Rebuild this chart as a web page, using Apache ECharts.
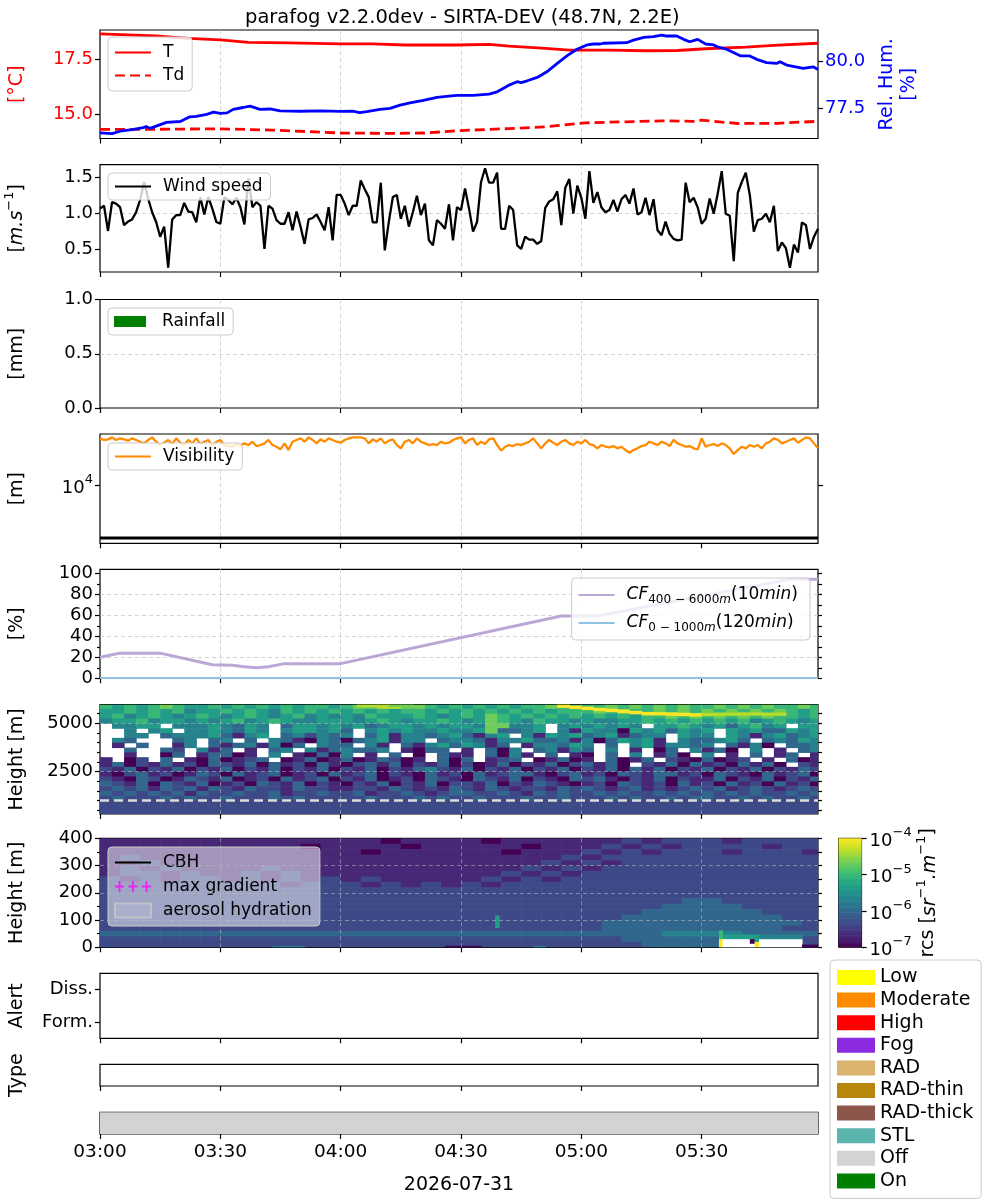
<!DOCTYPE html>
<html><head><meta charset="utf-8">
<script src="https://cdn.jsdelivr.net/npm/echarts@6/dist/echarts.min.js"></script>
<style>html,body{margin:0;padding:0;background:#fff}#c{width:1000px;height:1200px}</style>
</head><body><div id="c"></div>
<script>
// ================= DATA =================
const chartTitle = 'parafog v2.2.0dev - SIRTA-DEV (48.7N, 2.2E)';
const dateLabel = '2026-07-31';
const timeTicks = [0, 30, 60, 90, 120, 150];          // minutes after 03:00
const timeEnd = 179;

const tTime = [0,14,22,30,37,47,60,68,76,89,97,102,111,117,127,136,144,151,161,169,179];
const tVal  = [18.65,18.56,18.45,18.38,18.27,18.25,18.2,18.2,18.15,18.15,18.18,18.1,18.0,17.92,17.92,17.89,17.9,17.98,18.05,18.14,18.23];
const tdTime = [0,15,30,43,60,72,81,90,102,111,115,121,127,140,148,150,159,169,179];
const tdVal  = [14.32,14.33,14.35,14.29,14.16,14.14,14.16,14.27,14.36,14.44,14.51,14.62,14.65,14.71,14.69,14.74,14.59,14.6,14.69];
const rhTime = [0,3,5,8,10.8,11.5,12.5,14,16.6,20,22.4,24,26.6,28.3,30,31.7,33.2,35.7,37.4,39.9,42.4,44.9,50,55,60,63,64.8,66.5,69.8,72.3,74.8,77.3,80.6,84,88.9,93,97,99,100.5,102,104,105,106.5,109,111.4,114,116.4,118.9,121.4,123,124.7,125,125.5,131.3,133,135.6,138,140,141,143.8,145.5,147,149,151,153,153.9,156.2,159.6,162,163.7,166.2,168.7,169.5,171.2,172.5,175.3,177.8,179];
const rhVal  = [76.19,76.15,76.28,76.37,76.47,76.53,76.43,76.55,76.75,76.8,77.05,77.08,77.18,77.3,77.23,77.26,77.45,77.55,77.62,77.45,77.47,77.37,77.35,77.37,77.34,77.36,77.28,77.33,77.45,77.5,77.68,77.8,77.93,78.09,78.2,78.2,78.27,78.39,78.57,78.75,78.93,78.88,78.98,79.16,79.46,79.91,80.31,80.67,80.9,80.95,80.95,80.88,80.99,81.02,81.16,81.31,81.34,81.43,81.38,81.38,81.2,81.07,81.2,80.95,80.9,80.8,80.67,80.32,80.31,80.13,79.95,79.91,80.0,79.82,79.77,79.65,79.73,79.59];

// 1-minute wind speed [m/s], 03:00 -> 05:59
const windSpeed = [
 1.06,1.1,0.75,1.15,1.13,1.08,0.83,0.88,0.91,1.01,
 1.18,1.43,1.2,1.01,0.875,0.67,0.81,0.24,0.91,0.97,
 0.97,1.14,1.02,1.01,0.87,1.22,0.98,1.22,1.06,0.875,
 0.85,1.22,1.18,1.12,1.21,1.08,0.84,1.48,1.08,1.15,
 1.1,0.5,1.1,1.06,0.9,0.85,0.85,1.01,0.76,1.02,
 0.81,0.57,0.91,0.93,0.98,0.875,0.76,1.08,0.62,1.25,
 1.25,1.13,0.97,1.1,1.1,1.45,1.33,1.22,0.87,0.87,
 1.42,0.48,0.875,1.22,1.25,0.92,1.1,0.81,1.01,1.24,
 0.97,1.13,0.62,0.55,0.9,0.85,0.78,1.12,0.62,1.08,
 1.04,1.34,1.06,0.74,0.875,1.43,1.62,1.42,1.42,1.56,
 0.78,0.78,1.1,1.04,0.55,0.5,0.67,0.63,0.63,0.57,
 0.61,1.07,1.16,1.19,1.3,0.83,1.35,1.47,0.99,1.38,
 1.21,0.92,1.58,1.14,1.29,1.08,1.01,1.04,1.18,1.02,
 1.19,1.25,1.13,1.34,0.98,1.01,1.21,0.97,1.19,0.76,
 0.69,0.88,0.71,0.64,0.62,0.63,1.42,1.15,1.21,1.08,
 0.85,0.92,1.2,0.99,1.27,1.58,0.99,0.96,0.33,1.28,
 1.43,1.56,1.25,0.74,0.9,0.92,0.99,0.87,1.1,0.47,
 0.59,0.51,0.24,0.56,0.45,0.87,0.83,0.5,0.67,0.78];

const rainfall = [];   // no rain recorded

// 1-minute visibility [m]
const visibility = [
 18420,18030,18180,18660,18030,18420,18180,17860,18420,18030,
 17630,17250,18030,18660,17630,16880,17400,18030,17100,18420,
 17400,16880,18030,17250,18420,17100,17630,18030,16650,17630,
 18030,16880,16650,16510,17100,16800,17250,16880,17630,16650,
 16880,17250,18030,16880,16510,15950,17250,15800,17630,18030,
 18420,17630,18660,18030,17250,18180,17630,18420,18030,17630,
 17400,18030,18420,18660,18660,18660,18420,17250,18180,17630,
 18420,17250,17860,18180,16880,16160,17630,18030,17250,18420,
 17630,17250,16880,17100,16880,17630,17250,17400,18030,18420,
 18660,17250,18030,18420,16880,17630,17100,18180,18420,16880,
 15670,16510,16880,16650,17100,16880,17250,17630,18420,17250,
 16160,17250,18030,17400,16880,17630,18030,17250,16880,17630,
 17250,18030,17100,16880,16160,16880,16510,16370,16650,16160,
 16510,15800,15270,15800,16160,16650,16880,17630,17250,16880,
 17630,17250,16650,18030,17250,16880,16510,16650,16160,15950,
 18420,16510,16880,17100,16650,17250,16880,16160,15000,15800,
 16510,16160,16880,16510,16880,16160,17250,17630,18420,18030,
 17250,17630,18030,18420,17400,18030,18660,18420,17250,16160];
const visFogThreshold = 5000;

const cfTime = [0,5,15,28,33,36,39,42,46,60,115,124,172,179];
const cf400  = [20,24,24,13,12.5,11,10,11,14,14,59.5,59.5,94.5,94.5];
const cf0Time = [0,179];
const cf0     = [0,0];

// log10(rcs) codes: digit d -> log10 = -7 + d/3 ; '.' = no data. Rows top (5750-6000 m) -> bottom (250-500 m), 3-min columns
const hgtRows = [
 "6565676556 5656565665 6778877656 5656566766 6676767676 6767676676",
 "5565656455 6565465656 5656566565 6565656566 6767667676 7676767656",
 "5645654565 4565456454 5465556545 6576565656 5656566767 6767676656",
 "4556455454 5645654455 5456545565 4576546554 5445565656 5656456545",
 ".4455.4445 4354.35545 4534554545 5477445.45 45454.5565 4535645.55",
 "..4.45.445 4354.45545 3.45454454 4563345.41 5440545354 5.54533545",
 "..44.34445 3145.34243 4.35144345 3145.41545 3451344.54 4.54145345",
 ".43...34.3 4.3.431043 0345144.34 4314453341 4035451.43 3453.34354",
 ".1.3..14.3 1341403.43 3.41.31453 5413.14435 4.3.451443 4.3140.334",
 "..3..32.41 3.1.34.413 4334.1033. 1.304.3414 3.4.1.03.4 130.4.1.34",
 "..1..03.13 301.4.1030 4.1.3.0.31 1.3041.3.1 0.3.4.130. 4.1.3.13.1",
 "1.02.3.103 0123.01301 3013201.30 3.123.0130 1.3013.210 3012.1.301",
 "1302131203 2130312031 0231302130 2013021302 3130.21303 1203130.21",
 "2130213021 3021302130 2130213421 3021302130 2130313021 3021302132",
 "1023120132 0312301203 1230210312 0312331023 1203213312 0321031230",
 "2103201321 3012031230 2130120321 0321302103 2310213021 1302130213",
 "3213032130 1203213021 0213021302 2130213210 1203212031 2031203120",
 "2323132313 2132213221 1221321213 2132122132 3212312123 2312321232",
 "3232323132 2322312232 2312232123 3223213232 2323223232 3232322323",
 "2322232322 3222323222 2232223232 2322232232 2232322323 3223232232",
 "2222222222 2222222222 2222222222 2222222222 2222222222 2222222222",
 "2222222222 2222222222 2222222222 2222222222 2222222222 2222222222",
 "2222222222 2222222222 2222222222 2222222222 2222222222 2222222222"];
const hgtColStep = 3, hgtRowBase = 250, hgtRowStep = 250;
// cloud layer (bright line) near the top: [t0, t1, h0, h1, code]
const hgtSpecial = [
 [64,67,5860,5965,8],[67,72,5870,5965,8],[72,78,5880,5965,7],
 [114,117,5830,5965,9],[117,120,5770,5920,9],[120,123,5720,5870,9],[123,126,5660,5810,9],
 [126,129,5610,5760,9],[129,132,5560,5710,9],[132,135,5500,5650,9],[135,138,5440,5590,9],
 [138,141,5440,5580,9],[141,144,5420,5570,9],[144,147,5400,5550,9],[147,150,5380,5530,9],
 [150,153,5400,5540,8],[153,159,5420,5560,8],[159,165,5430,5570,8],[165,171,5420,5560,8],
 [96,99,4500,5060,7]];

// low-level rcs codes, rows top (380-400 m) -> bottom (0-20 m), 5-min columns
const lowRows = [
 "111111 111111 110111 101111 112122 212222",
 "111111 111101 111011 111011 121212 222122",
 "111111 111111 101111 110111 212122 212221",
 "121111 111111 111111 111112 122222 222222",
 "112111 111111 111111 111121 212222 222222",
 "121211 112111 111111 111212 122222 222222",
 "122121 121211 111111 112121 222222 222222",
 "212122 121212 121111 121212 222222 222222",
 "222222 222122 212121 212222 222222 222222",
 "222222 222222 222222 222222 222222 222222",
 "222222 222222 222222 222222 222222 222222",
 "222222 222222 222222 222222 222223 322222",
 "222222 222222 222222 222222 222233 332222",
 "222222 222222 222222 222222 222333 333222",
 "222222 222222 222222 222222 223333 333322",
 "222222 222222 222222 222222 233333 333332",
 "222222 222222 222222 222222 233333 333322",
 "333333 333333 333333 333333 333344 443333",
 "222222 222222 222222 222222 223333 333332",
 "222222 222222 222222 222222 222333 333222"];
const lowColStep = 5, lowRowStep = 20;
// finer features: [t0, t1, h0, h1, code] ('.' = no data)
const lowSpecial = [
 [154.3,155.2,0,32,'9'],[154.3,155.2,32,62,'6'],[155.2,162,0,32,'.'],[155.2,162,32,47,'5'],
 [162,163.2,13,32,'0'],[162,163.2,0,13,'.'],[162,163.2,32,47,'5'],
 [163.2,164.3,0,22,'9'],[163.2,164.3,22,47,'5'],
 [164.3,175,0,32,'.'],[164.3,175,32,47,'4'],[175,179,0,10,'0'],
 [98.5,99.5,73,117,'5'],[86,95,0,6,'0'],[43,51,0,5,'4'],[108,111,0,5,'4']];

const cbhPoints = [], maxGradient = [];
const alertFormation = [], alertDissipation = [];
const statusStart = [0], statusEnd = [179], statusState = ['Off'];

const figLegendNames  = ['Low','Moderate','High','Fog','RAD','RAD-thin','RAD-thick','STL','Off','On'];
const figLegendColors = ['#ffff00','#ff8c00','#ff0000','#8a2be2','#dab46c','#b8860b','#8c564b','#5ab4ac','#d3d3d3','#008000'];

// ================= HELPERS =================
const F = 'DejaVu Sans', BLACK = '#000';
const zip = (a, b) => a.map((v, i) => [v, b[i]]);
const fmtTime = m => { const h = 3 + Math.floor(m / 60), mm = Math.round(m % 60); return (h < 10 ? '0' : '') + h + ':' + (mm < 10 ? '0' : '') + mm; };
const VIR = ['#440154','#482475','#414487','#355f8d','#2a788e','#21918c','#22a884','#44bf70','#7ad151','#bddf26','#fde725']
  .map(h => [parseInt(h.substr(1,2),16), parseInt(h.substr(3,2),16), parseInt(h.substr(5,2),16)]);
function viridis(t) {
  t = Math.max(0, Math.min(1, t)); const x = t * 10; const i = Math.min(9, Math.floor(x)); const f = x - i;
  const a = VIR[i], b = VIR[i + 1];
  return 'rgb(' + [0,1,2].map(k => Math.round(a[k] + (b[k] - a[k]) * f)).join(',') + ')';
}
function isObj(o) { return o && typeof o === 'object' && !Array.isArray(o); }
function merge(a, b) { for (const k in b) { if (isObj(b[k]) && isObj(a[k])) merge(a[k], b[k]); else a[k] = b[k]; } return a; }

function buildCells(rows, colStep, rowBase, rowStep) {
  const out = []; const n = rows.length;
  rows.forEach((s, ri) => {
    const r = n - 1 - ri; const str = s.replace(/\s+/g, '');
    for (let c = 0; c < str.length; c++) {
      const ch = str[c]; if (ch === '.') continue;
      out.push([c * colStep, (c + 1) * colStep, rowBase + r * rowStep, rowBase + (r + 1) * rowStep, +ch]);
    }
  });
  return out;
}
const hgtCells = buildCells(hgtRows, hgtColStep, hgtRowBase, hgtRowStep).concat(hgtSpecial);
const lowCells = buildCells(lowRows, lowColStep, 0, lowRowStep);
const lowSpecialCells = lowSpecial.map(d => [d[0], d[1], d[2], d[3], d[4] === '.' ? -1 : +d[4]]);
const cbarCells = [];
for (let k = 0; k < 90; k++) { const v0 = -7 + k * 3 / 90, v1 = v0 + 3 / 90; cbarCells.push([0, 1, v0, v1, ((v0 + v1) / 2 + 7) / 3 * 9]); }
const statusCells = statusStart.map((s, i) => [s, statusEnd[i], 0, 1, figLegendNames.indexOf(statusState[i])]);

function cellItem(params, api) {
  const p0 = api.coord([api.value(0), api.value(3)]), p1 = api.coord([api.value(1), api.value(2)]);
  const code = api.value(4), cs = params.coordSys;
  const r = echarts.graphic.clipRectByRect({x: p0[0], y: p0[1], width: p1[0] - p0[0] + 0.6, height: p1[1] - p0[1] + 0.6},
    {x: cs.x, y: cs.y, width: cs.width, height: cs.height});
  if (!r) return null;
  return {type: 'rect', shape: r, style: {fill: code < 0 ? '#ffffff' : viridis(code / 9)}};
}
function statusItem(params, api) {
  const p0 = api.coord([api.value(0), api.value(3)]), p1 = api.coord([api.value(1), api.value(2)]);
  const cs = params.coordSys;
  const r = echarts.graphic.clipRectByRect({x: p0[0], y: p0[1], width: p1[0] - p0[0], height: p1[1] - p0[1]},
    {x: cs.x, y: cs.y, width: cs.width, height: cs.height});
  if (!r) return null;
  return {type: 'rect', shape: r, style: {fill: figLegendColors[api.value(4)]}};
}

// ================= LAYOUT =================
const panels = [
  {top: 30, h: 108.5}, {top: 164.7, h: 107.3}, {top: 299.5, h: 108.5}, {top: 434, h: 109.3},
  {top: 569.3, h: 109}, {top: 704.7, h: 109.3}, {top: 838.3, h: 109}, {top: 973.3, h: 65},
  {top: 1064.3, h: 21.7}, {top: 1112.3, h: 21.7}];
const grids = panels.map(p => ({left: 100, width: 718, top: p.top, height: p.h, show: true, borderColor: BLACK, borderWidth: 1.2,
  backgroundColor: 'transparent', containLabel: false, outerBoundsMode: 'none'}));
grids.push({left: 838.6, width: 23, top: 838.3, height: 109, show: true, borderColor: BLACK, borderWidth: 1,
  backgroundColor: 'transparent', containLabel: false, outerBoundsMode: 'none'});

const gridLine = {color: '#cfcfcf', type: [4, 3], width: 0.9};
const xAxes = panels.map((p, i) => ({
  type: 'value', gridIndex: i, position: 'bottom', min: 0, max: timeEnd,
  axisLine: {show: false, onZero: false},
  axisTick: {show: true, customValues: timeTicks, length: 5, lineStyle: {color: BLACK, width: 1.2}},
  axisLabel: {show: i === 9, customValues: timeTicks, formatter: fmtTime, fontSize: 18.5, fontFamily: F, color: BLACK, margin: 9},
  splitLine: {show: i <= 4, showMinLine: false, showMaxLine: false, lineStyle: gridLine},
  name: i === 9 ? dateLabel : '', nameLocation: 'middle', nameGap: 42,
  nameTextStyle: {fontSize: 19, fontFamily: F, color: BLACK}
}));
xAxes.push({type: 'value', gridIndex: 10, min: 0, max: 1, show: false});

const supRich = {
  n: {fontSize: 19, fontFamily: F, lineHeight: 24, verticalAlign: 'bottom'},
  i: {fontSize: 19, fontFamily: F, fontStyle: 'italic', lineHeight: 24, verticalAlign: 'bottom'},
  p: {fontSize: 13, fontFamily: F, lineHeight: 13, verticalAlign: 'top'},
  b: {fontSize: 18, fontFamily: F, lineHeight: 24, verticalAlign: 'bottom'}
};
function Y(gi, pos, min, max, ticks, labels, extra) {
  const a = {type: 'value', gridIndex: gi, position: pos, min: min, max: max,
    axisLine: {show: false, onZero: false},
    axisTick: {show: ticks.length > 0, customValues: ticks.length ? ticks : undefined, length: 5, lineStyle: {color: BLACK, width: 1.2}},
    axisLabel: {show: !!labels, customValues: labels || undefined, formatter: v => String(v), fontSize: 18, fontFamily: F, color: BLACK, margin: 7},
    splitLine: {show: false, showMinLine: false, showMaxLine: false, lineStyle: gridLine},
    nameLocation: 'middle', nameRotate: 90, nameGap: 73,
    nameTextStyle: {fontSize: 19, fontFamily: F, color: BLACK}};
  return merge(a, extra || {});
}
const f1 = v => v.toFixed(1);
const yAxes = [
  Y(0, 'left', 13.91, 18.83, [15, 17.5], [15, 17.5], {axisLabel: {formatter: f1, color: '#ff0000'}, splitLine: {show: true}, name: '[°C]', nameTextStyle: {color: '#ff0000'}}),
  Y(0, 'right', 75.89, 81.70, [77.5, 80], [77.5, 80], {axisLabel: {formatter: f1, color: '#0000ff'}, name: 'Rel. Hum.\n[%]', nameGap: 55, nameTextStyle: {color: '#0000ff', lineHeight: 22}}),
  Y(1, 'left', 0.18, 1.67, [0.5, 1, 1.5], [0.5, 1, 1.5], {axisLabel: {formatter: f1}, splitLine: {show: true}, name: '{n|[}{i|m.s}{p|−1}{n|]}', nameTextStyle: {rich: supRich}}),
  Y(2, 'left', 0, 1, [0, 0.5, 1], [0, 0.5, 1], {axisLabel: {formatter: f1}, splitLine: {show: true}, name: '[mm]'}),
  Y(3, 'left', 4665, 19500, [10000], [10000], {type: 'log', logBase: 10, axisLabel: {formatter: () => '{b|10}{p|4}', rich: supRich}, splitLine: {show: true}, name: '[m]'}),
  Y(3, 'right', 4665, 19500, [10000], null, {type: 'log', logBase: 10}),
  Y(4, 'left', 0, 104, [0, 20, 40, 60, 80, 100], [0, 20, 40, 60, 80, 100], {splitLine: {show: true}, name: '[%]'}),
  Y(4, 'left', 0, 104, [10, 30, 50, 70, 90], null, {axisTick: {length: 3}}),
  Y(4, 'right', 0, 104, [0, 10, 20, 30, 40, 50, 60, 70, 80, 90, 100], null, {axisTick: {length: 4}}),
  Y(5, 'left', 310, 5965, [2500, 5000], [2500, 5000], {name: 'Height [m]'}),
  Y(5, 'left', 310, 5965, [500, 1000, 1500, 2000, 3000, 3500, 4000, 4500, 5500], null, {axisTick: {length: 3}}),
  Y(5, 'right', 310, 5965, [500, 1000, 1500, 2000, 2500, 3000, 3500, 4000, 4500, 5000, 5500], null, {axisTick: {length: 4}}),
  Y(6, 'left', 0, 400, [0, 100, 200, 300, 400], [0, 100, 200, 300, 400], {name: 'Height [m]'}),
  Y(6, 'left', 0, 400, [50, 150, 250, 350], null, {axisTick: {length: 3}}),
  Y(6, 'right', 0, 400, [0, 50, 100, 150, 200, 250, 300, 350, 400], null, {axisTick: {length: 4}}),
  Y(7, 'left', -0.5, 1.5, [0, 1], [0, 1], {axisLabel: {formatter: v => (v === 0 ? 'Form.' : 'Diss.')}, name: 'Alert'}),
  Y(8, 'left', 0, 1, [], null, {name: 'Type'}),
  Y(9, 'left', 0, 1, [], null, {}),
  Y(10, 'right', -7, -4, [-7, -6, -5, -4], [-7, -6, -5, -4], {axisLabel: {formatter: v => '{b|10}{p|' + (v < 0 ? '−' : '') + Math.abs(v) + '}', rich: supRich, margin: 8},
     name: 'rcs [{i|sr}{p|−1}{i|.m}{p|−1}]', nameGap: 50, nameTextStyle: {rich: supRich}})
];

const overGrid = (xs, ys, extra) => ({silent: true, symbol: 'none', label: {show: false}, animation: false,
  lineStyle: {color: 'rgba(190,190,190,0.55)', type: [4, 3], width: 1},
  data: xs.map(v => ({xAxis: v})).concat(ys.map(v => ({yAxis: v}))).concat(extra || [])});

const lineS = (name, xi, yi, data, color, width, extra) => merge({name: name, type: 'line', xAxisIndex: xi, yAxisIndex: yi, data: data,
  symbol: 'none', showSymbol: false, lineStyle: {color: color, width: width}, itemStyle: {color: color}, z: 3}, extra || {});

const series = [
  lineS('T', 0, 0, zip(tTime, tVal), '#ff0000', 2.8),
  lineS('Td', 0, 0, zip(tdTime, tdVal), '#ff0000', 2.8, {lineStyle: {type: [10, 5]}}),
  lineS('RH', 0, 1, zip(rhTime, rhVal), '#0000ff', 2.8),
  lineS('Wind speed', 1, 2, windSpeed.map((v, i) => [i, v]), '#000000', 2.3),
  {name: 'Rainfall', type: 'bar', xAxisIndex: 2, yAxisIndex: 3, data: rainfall, itemStyle: {color: '#008000'}},
  lineS('Visibility', 3, 4, visibility.map((v, i) => [i, v]), '#ff8c00', 2.3),
  lineS('fogThreshold', 3, 4, [[0, visFogThreshold], [timeEnd, visFogThreshold]], '#000000', 3),
  lineS('CF400', 4, 6, zip(cfTime, cf400), '#bba7d6', 3),
  lineS('CF0', 4, 6, zip(cf0Time, cf0), '#8ec3e6', 2, {z: 2}),
  {name: 'hgtHeat', type: 'custom', xAxisIndex: 5, yAxisIndex: 9, data: hgtCells, renderItem: cellItem, progressive: 0,
    encode: {x: [0, 1], y: [2, 3]}, silent: true,
    markLine: overGrid([30, 60, 90, 120, 150], [2500, 5000], [{yAxis: 1000, lineStyle: {color: '#dcdcdc', type: [9, 5], width: 2.6}}])},
  {name: 'lowHeat', type: 'custom', xAxisIndex: 6, yAxisIndex: 12, data: lowCells, renderItem: cellItem, progressive: 0,
    encode: {x: [0, 1], y: [2, 3]}, silent: true, markLine: overGrid([30, 60, 90, 120, 150], [100, 200, 300])},
  {name: 'lowSpecial', type: 'custom', xAxisIndex: 6, yAxisIndex: 12, data: lowSpecialCells, renderItem: cellItem,
    encode: {x: [0, 1], y: [2, 3]}, silent: true, z: 2},
  lineS('CBH', 6, 12, cbhPoints, '#000000', 2.5),
  {name: 'max gradient', type: 'scatter', xAxisIndex: 6, yAxisIndex: 12, data: maxGradient, symbol: 'path://M0,4h9v1.6H0z M3.7,0h1.6v9.6H3.7z', itemStyle: {color: '#ff00ff'}},
  {name: 'aerosol hydration', type: 'scatter', xAxisIndex: 6, yAxisIndex: 12, data: [], itemStyle: {color: 'rgba(255,255,255,0.15)', borderColor: '#c8c8c8', borderWidth: 2}},
  {name: 'alertForm', type: 'scatter', xAxisIndex: 7, yAxisIndex: 15, data: alertFormation},
  {name: 'alertDiss', type: 'scatter', xAxisIndex: 7, yAxisIndex: 15, data: alertDissipation},
  {name: 'status', type: 'custom', xAxisIndex: 9, yAxisIndex: 17, data: statusCells, renderItem: statusItem, encode: {x: [0, 1], y: [2, 3]}, silent: true},
  {name: 'cbar', type: 'custom', xAxisIndex: 10, yAxisIndex: 18, data: cbarCells, renderItem: cellItem, encode: {x: [0, 1], y: [2, 3]}, silent: true}
];
figLegendNames.forEach((n, i) => series.push({name: n, type: 'bar', xAxisIndex: 8, yAxisIndex: 16, data: [], itemStyle: {color: figLegendColors[i]}}));

// ================= LEGENDS =================
const legBase = () => ({orient: 'vertical', backgroundColor: 'rgba(255,255,255,0.8)', borderColor: '#cccccc', borderWidth: 1, borderRadius: 4,
  padding: [5, 8, 5, 6], itemWidth: 36, itemHeight: 14, itemGap: 6, selectedMode: false,
  textStyle: {fontSize: 17, lineHeight: 17, fontFamily: F, color: BLACK, padding: [0, 0, 0, 7]}});
const noSym = {opacity: 0};
const plusIcon = 'path://M0,4.2h8v1.6H0z M3.2,0.2h1.6v9.6H3.2z M12,4.2h8v1.6h-8z M15.2,0.2h1.6v9.6h-1.6z M24,4.2h8v1.6h-8z M27.2,0.2h1.6v9.6h-1.6z';
const cfRich = {
  i: {fontSize: 17, fontFamily: F, fontStyle: 'italic', lineHeight: 22, verticalAlign: 'middle'},
  n: {fontSize: 17, fontFamily: F, lineHeight: 22, verticalAlign: 'middle'},
  s: {fontSize: 12, fontFamily: F, lineHeight: 12, verticalAlign: 'bottom'},
  si: {fontSize: 12, fontFamily: F, fontStyle: 'italic', lineHeight: 12, verticalAlign: 'bottom'}
};
const legends = [
  merge(legBase(), {left: 108, top: 37, padding: [7, 8, 7, 6], itemStyle: noSym, data: ['T', 'Td']}),
  merge(legBase(), {left: 108, top: 173, itemStyle: noSym, data: ['Wind speed']}),
  merge(legBase(), {left: 108, top: 308, itemWidth: 32, itemHeight: 11, data: [{name: 'Rainfall', icon: 'rect'}], textStyle: {padding: [0, 0, 0, 11]}}),
  merge(legBase(), {left: 108, top: 443, itemStyle: noSym, data: ['Visibility']}),
  merge(legBase(), {right: 190, top: 578, itemGap: 6, padding: [6, 12, 6, 6], itemStyle: noSym,
    formatter: n => n === 'CF400' ? '{i|CF}{s|400 − 6000}{si|m}{n|(10}{i|min}{n|)}' : '{i|CF}{s|0 − 1000}{si|m}{n|(120}{i|min}{n|)}',
    textStyle: {rich: cfRich, lineHeight: 22}, data: ['CF400', 'CF0']}),
  merge(legBase(), {left: 108, top: 847, backgroundColor: 'rgba(255,255,255,0.5)', itemGap: 7, padding: [7, 8, 7, 6],
    data: [{name: 'CBH', itemStyle: noSym}, {name: 'max gradient', icon: plusIcon},
           {name: 'aerosol hydration', icon: 'rect', itemStyle: {color: 'rgba(255,255,255,0.15)', borderColor: '#c8c8c8', borderWidth: 2}}]}),
  merge(legBase(), {left: 830, top: 960, itemWidth: 38, itemHeight: 15, itemGap: 3.6, padding: [8, 8, 8, 7],
    textStyle: {fontSize: 19, lineHeight: 19, padding: [0, 0, 0, 0]}, data: figLegendNames.map(n => ({name: n, icon: 'rect'}))})
];

const chart = echarts.init(document.getElementById('c'), null, {renderer: 'canvas'});
chart.setOption({
  animation: false,
  backgroundColor: '#ffffff',
  textStyle: {fontFamily: F},
  title: {text: chartTitle, left: 240, top: 3, textStyle: {fontSize: 19.5, fontWeight: 'normal', color: BLACK, fontFamily: F}},
  grid: grids, xAxis: xAxes, yAxis: yAxes, legend: legends, series: series
});
</script></body></html>
